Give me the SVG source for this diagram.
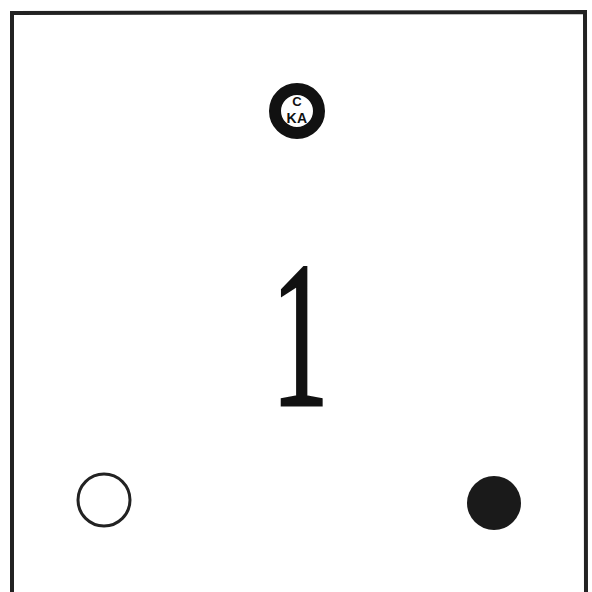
<svg xmlns="http://www.w3.org/2000/svg" width="592" height="592" viewBox="0 0 592 592">
<style>
.hand{font-family:"Liberation Sans",Arial,sans-serif;fill:#111;text-anchor:middle;font-weight:bold}
</style>
<rect width="592" height="592" fill="#fff"/>
<g id="frame">
<path d="M12,592 L12,13 L585,12 L586,592" fill="none" stroke="#222" stroke-width="4"/>
</g>
<g id="badge">
<circle cx="297" cy="111" r="22" fill="#fff" stroke="#111" stroke-width="12"/>
<text class="hand" x="297" y="106" font-size="13">C</text>
<text class="hand" x="297" y="123" font-size="14" letter-spacing="0.5">KA</text>
</g>
<g id="numeral">
<text x="0" y="0" font-family="Liberation Serif,serif" font-size="208" fill="#111" stroke="#111" stroke-width="3" text-anchor="middle" transform="translate(300,405) scale(0.55,1)">1</text>
</g>
<g id="open-circle">
<circle cx="104" cy="500" r="26" fill="none" stroke="#222" stroke-width="3"/>
</g>
<g id="filled-circle">
<circle cx="494" cy="503" r="27" fill="#1a1a1a"/>
</g>
</svg>
